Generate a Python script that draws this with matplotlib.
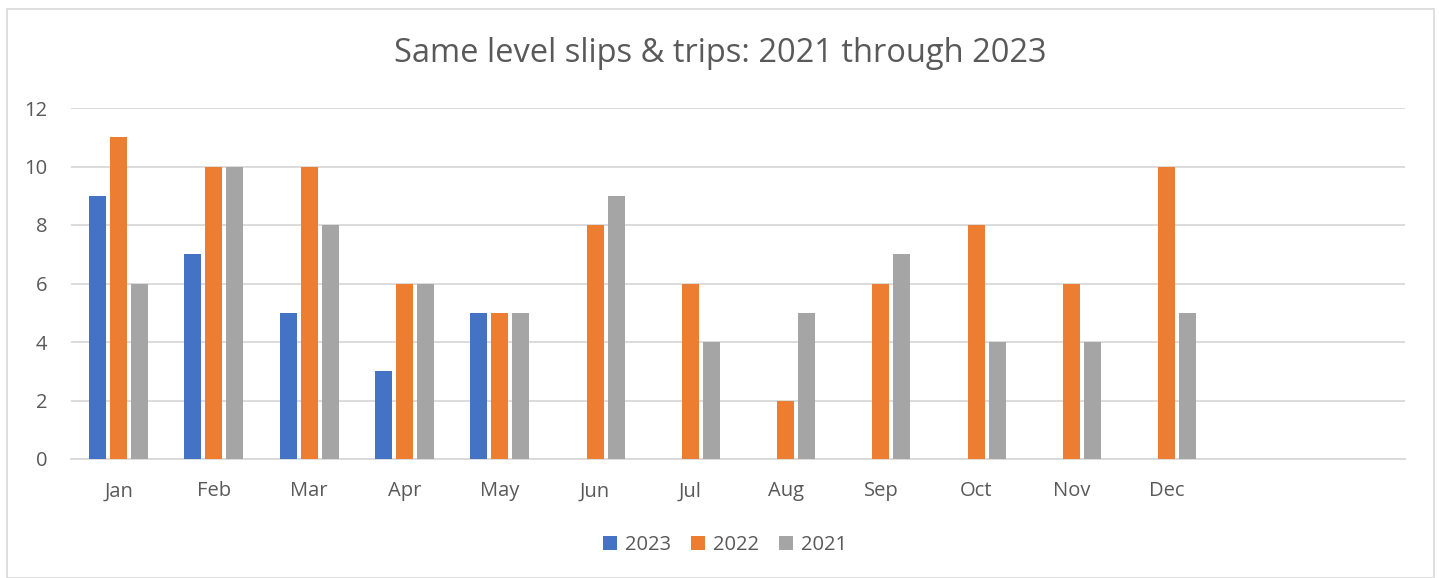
import numpy as np
import matplotlib
matplotlib.use("Agg")
import matplotlib.pyplot as plt
from matplotlib.patches import Rectangle

plt.rcParams['font.family'] = ['Open Sans', 'DejaVu Sans']

categories = ["Jan", "Feb", "Mar", "Apr", "May", "Jun", "Jul", "Aug", "Sep", "Oct", "Nov", "Dec", "", ""]
series_names = ["2023", "2022", "2021"]
v2023 = [9, 7, 5, 3, 5, np.nan, np.nan, np.nan, np.nan, np.nan, np.nan, np.nan, np.nan, np.nan]
v2022 = [11, 10, 10, 6, 5, 8, 6, 2, 6, 8, 6, 10, np.nan, np.nan]
v2021 = [6, 10, 8, 6, 5, 9, 4, 5, 7, 4, 4, 5, np.nan, np.nan]
colors = ["#4472C4", "#ED7D31", "#A5A5A5"]

W, H = 1439, 578
fig = plt.figure(figsize=(W/100, H/100), dpi=100)
ax = fig.add_axes([71/W, 1-459/H, (1405-71)/W, (459-108)/H])

x = np.arange(len(categories))
offs = [-0.22, 0.0, 0.22]
for vals, c, o, n in zip([v2023, v2022, v2021], colors, offs, series_names):
    ax.bar(x + o, vals, width=0.178, color=c, label=n, zorder=3)

ax.set_xlim(-0.5, len(categories) - 0.5)
ax.set_ylim(0, 12)
ax.set_yticks(range(0, 13, 2))
ax.set_xticks(x)
ax.set_xticklabels(categories)
ax.yaxis.grid(True, color="#D9D9D9", lw=1.3, zorder=0)
for s in ["top", "right", "left"]:
    ax.spines[s].set_visible(False)
ax.spines["bottom"].set_color("#D9D9D9")
ax.spines["bottom"].set_linewidth(1.3)
ax.tick_params(axis="both", length=0, labelsize=14.5, labelcolor="#595959")
ax.tick_params(axis="x", pad=16)
ax.tick_params(axis="y", pad=17)

fig.text(720/W, 1-53/H, "Same level slips & trips: 2021 through 2023", ha="center", va="center",
         fontsize=23.5, color="#595959")

leg = fig.legend(loc="center", bbox_to_anchor=(725/W, 1-545/H), ncol=3, frameon=False,
                 fontsize=14.5, handlelength=0.7, handleheight=0.7, handletextpad=0.4,
                 columnspacing=1.0)
for t in leg.get_texts():
    t.set_color("#595959")

fig.patches.append(Rectangle((7/W, 0), 1427/W, 1-9/H, transform=fig.transFigure,
                             fill=False, edgecolor="#D9D9D9", lw=1.2))

fig.savefig("out.png", dpi=100, facecolor="white")
